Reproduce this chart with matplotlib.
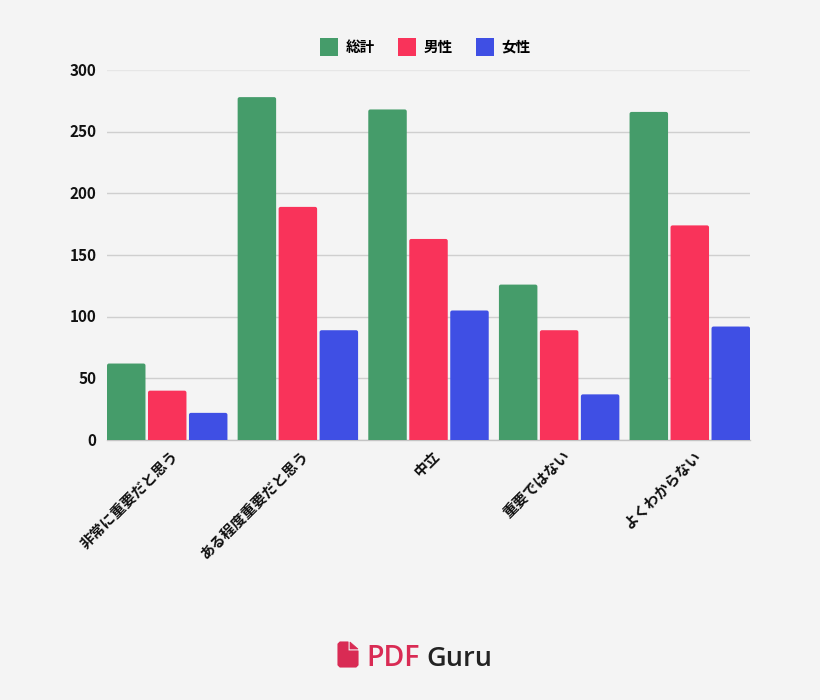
import matplotlib
matplotlib.use('Agg')
import matplotlib.pyplot as plt
from matplotlib.patches import FancyBboxPatch, Patch, Polygon
from matplotlib.transforms import ScaledTranslation

plt.rcParams['font.family'] = ['Noto Sans CJK JP', 'DejaVu Sans']

categories = ['非常に重要だと思う', 'ある程度重要だと思う', '中立', '重要ではない', 'よくわからない']
series_names = ['総計', '男性', '女性']
total = [62, 278, 268, 126, 266]
male = [40, 189, 163, 89, 174]
female = [22, 89, 105, 37, 92]
yticks = [0, 50, 100, 150, 200, 250, 300]
colors = ['#459c6a', '#f9335a', '#3f4fe4']
bg = '#f4f4f4'

W, H = 820, 700
fig = plt.figure(figsize=(8.2001, 7.0001), dpi=100, facecolor=bg)
# 位置は参照画像のピクセルから
ax = fig.add_axes([107 / W, 1 - 440 / H, 643 / W, 370 / H], facecolor=bg)

step = 41 / 130.7
width = 38.5 / 130.7
ax.set_xlim(-step - width / 2, 4 + step + width / 2)
ax.set_ylim(0, 300)

px_x = (4 + 2 * step + width) / 643
px_y = 300 / 370
for k, vals in enumerate([total, male, female]):
    for i, v in enumerate(vals):
        left = i + (k - 1) * step - width / 2
        # 角丸 bar, 下側は軸の外に出して隠す
        ax.add_patch(FancyBboxPatch((left, -4), width, v + 4,
                                    boxstyle='round,pad=0,rounding_size=%f' % (2 * px_x),
                                    mutation_aspect=px_y / px_x,
                                    fc=colors[k], ec='none', zorder=3))

ax.set_yticks(yticks)
ax.set_xticks(range(len(categories)))
ax.set_xticklabels(categories, rotation=45, ha='right', va='top', rotation_mode='anchor',
                   fontsize=10.5, fontweight='bold', color='#111111')
ax.tick_params(axis='x', length=0, pad=5.5)
ax.tick_params(axis='y', length=0, pad=7.5, labelsize=11, labelcolor='#111111')
# y ラベルを少し上へ, x ラベルを少し右へ
up = ScaledTranslation(0, 1 / 100, fig.dpi_scale_trans)
for t in ax.get_yticklabels():
    t.set_fontweight('bold')
    t.set_transform(t.get_transform() + up)
shift = ScaledTranslation(3 / 100, 0, fig.dpi_scale_trans)
for lab in ax.get_xticklabels():
    lab.set_transform(lab.get_transform() + shift)

ax.grid(axis='y', color='#cfcfcf', linewidth=1, zorder=0)
ax.set_axisbelow(True)
ax.get_ygridlines()[-1].set_color('#e6e6e6')
for s in ['top', 'right', 'left']:
    ax.spines[s].set_visible(False)
ax.spines['bottom'].set_color('#c4c4c4')
ax.spines['bottom'].set_linewidth(1)

handles = [Patch(fc=c, ec='none', label=n) for c, n in zip(colors, series_names)]
fig.legend(handles=handles, loc='center', bbox_to_anchor=(425.5 / W, 1 - 47 / H), ncol=3,
           frameon=False, handlelength=1.234, handleheight=1.52, handletextpad=0.55,
           columnspacing=1.55, borderpad=0, prop={'size': 10.5, 'weight': 'bold'})

# ロゴ
logo = fig.add_axes([0, 0, 1, 1], facecolor='none')
logo.set_xlim(0, W)
logo.set_ylim(H, 0)
logo.axis('off')
red = '#d92b54'
logo.add_patch(Polygon([(338, 644), (340, 642), (348, 642), (348, 651), (358, 651),
                        (358, 665), (356, 667), (340, 667), (338, 665)], fc=red, ec=red, lw=0.8, joinstyle='round'))
logo.add_patch(Polygon([(350, 642), (358, 649), (350, 649)], fc=red, ec=red, lw=0.5))
logo.text(366.5, 655, 'PDF', color=red, fontsize=20.5, fontweight='semibold', family='Open Sans', va='center_baseline')
logo.text(426.5, 655, 'Guru', color='#232323', fontsize=19.5, fontweight='semibold', family='Open Sans', va='center_baseline')

fig.savefig('out.png', dpi=100, facecolor=bg)
